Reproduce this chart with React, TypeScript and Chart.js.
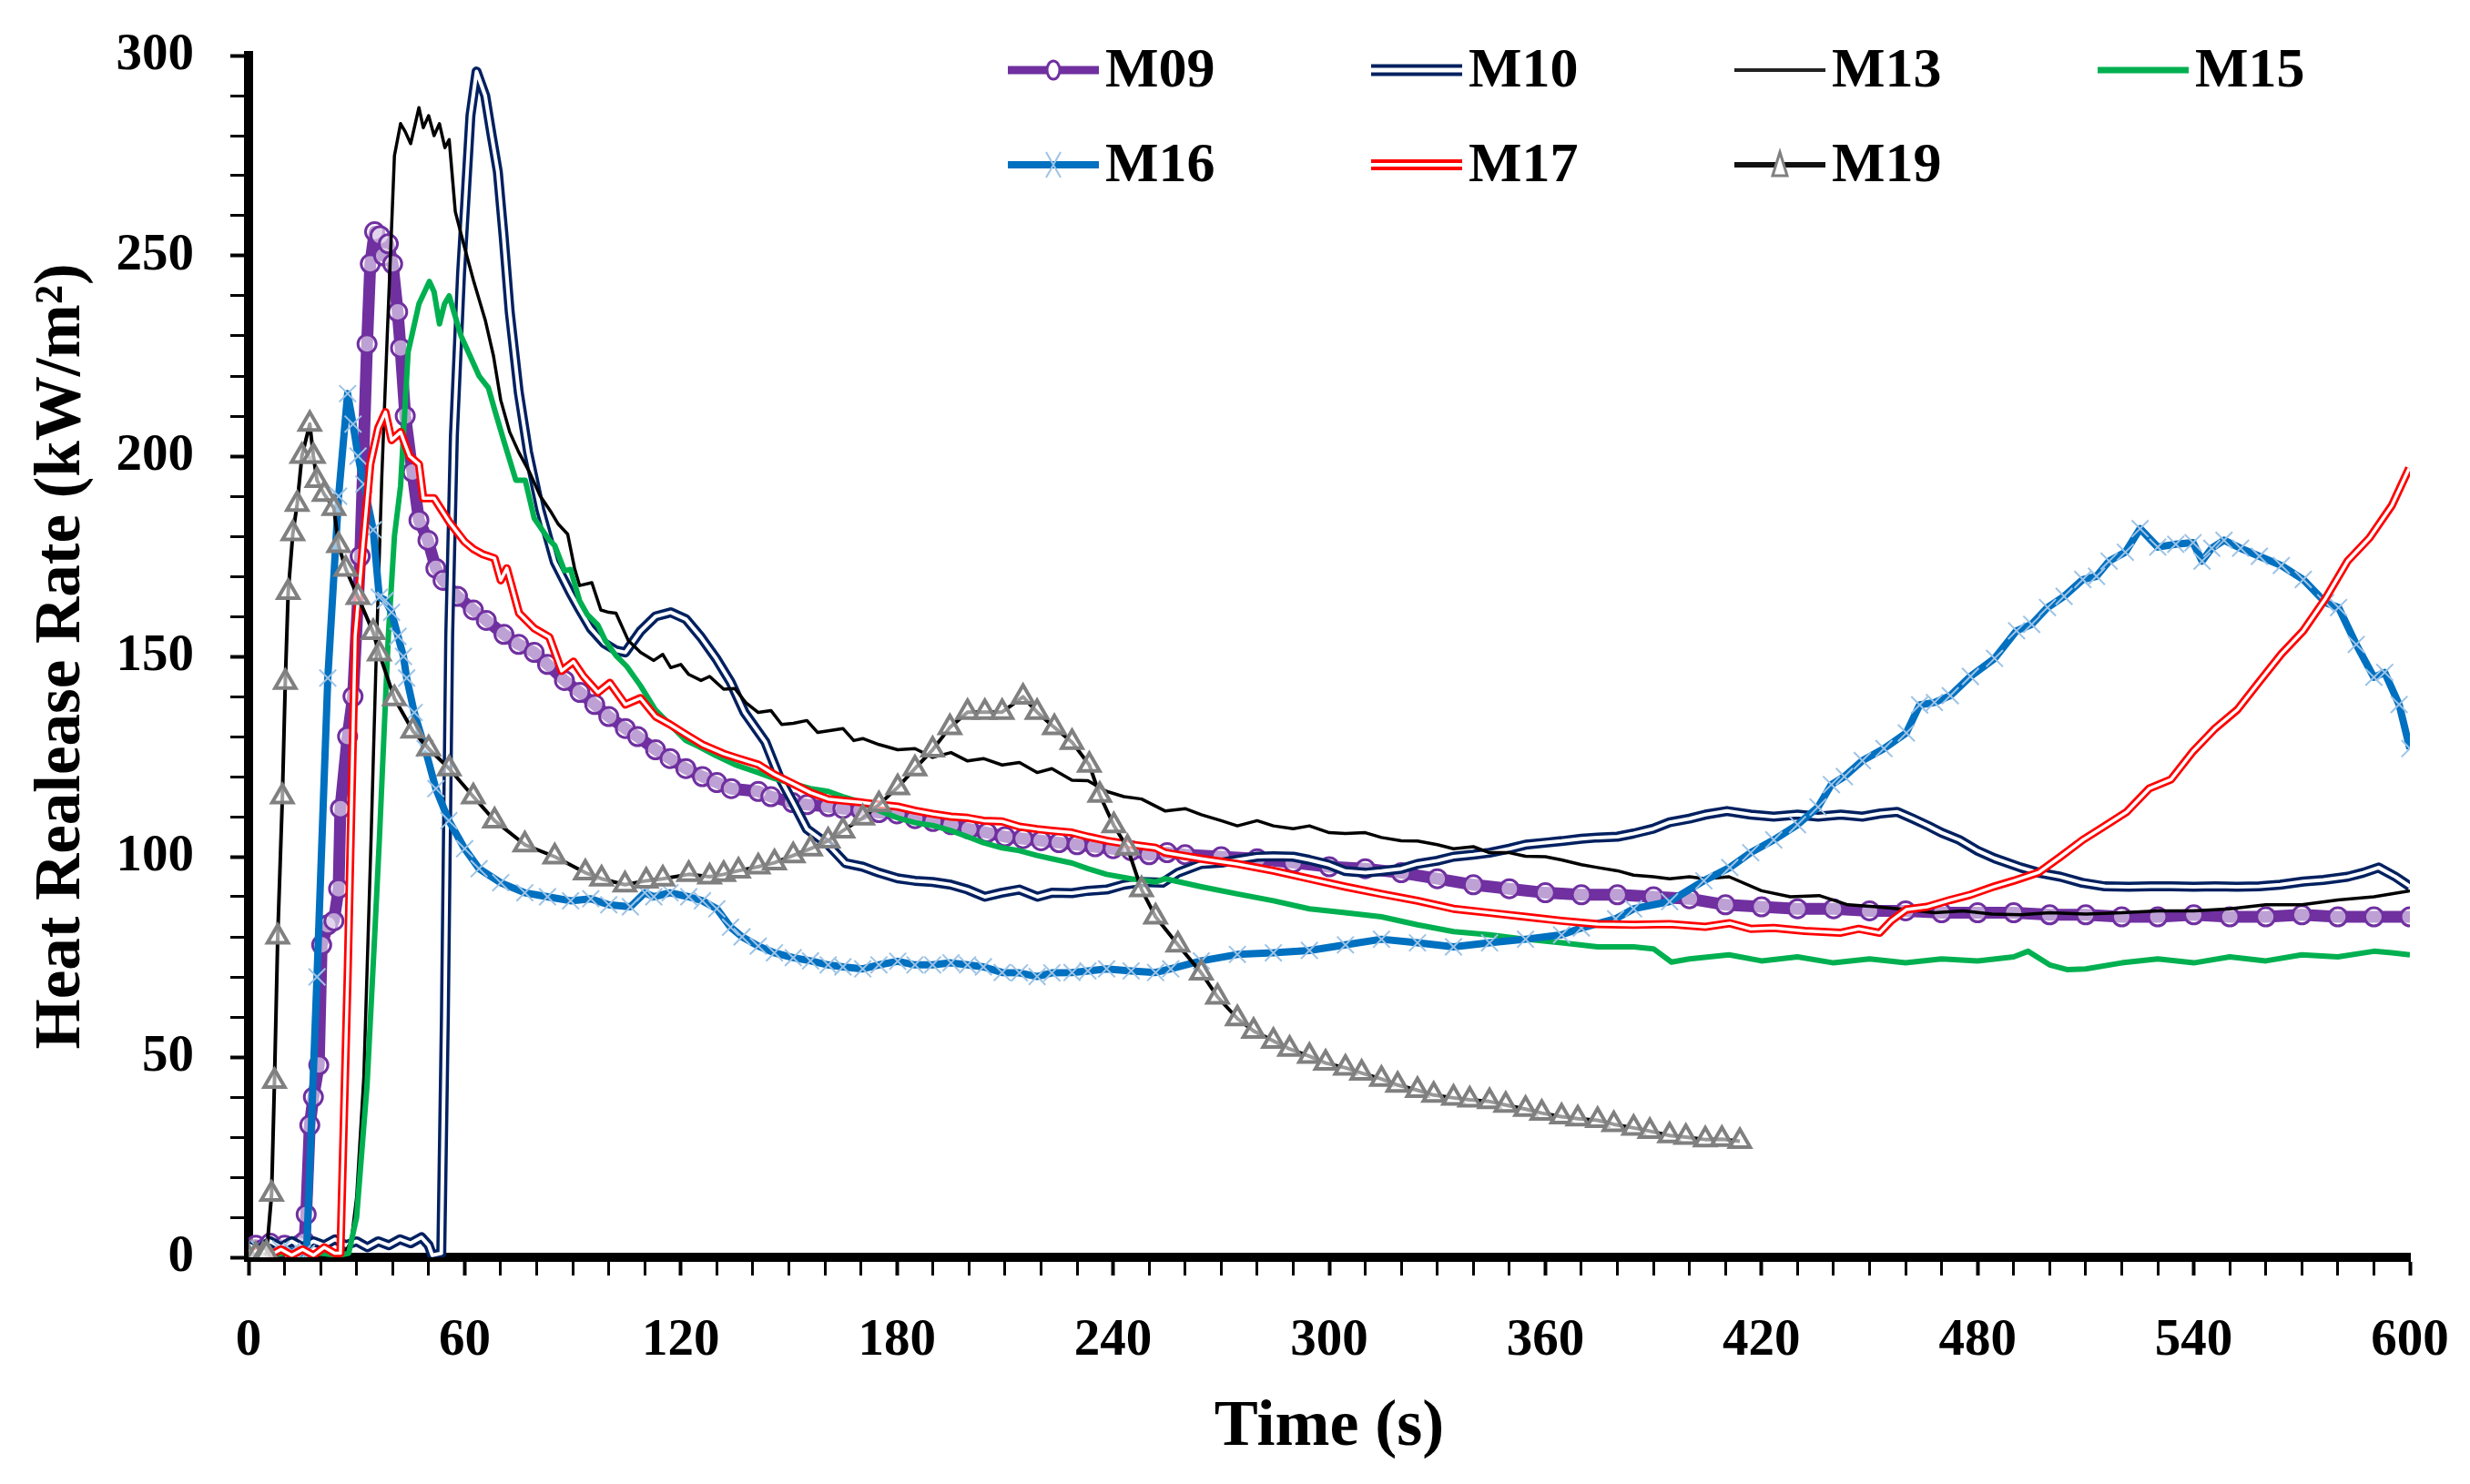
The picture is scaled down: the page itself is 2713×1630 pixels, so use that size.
import React, { useEffect, useRef } from "react";
import { Chart, registerables } from "chart.js";

Chart.register(...registerables);

// ---------- data (time in s, HRR in kW/m²) ----------
const m09T = [0, 2, 4, 6, 8, 10, 12, 14, 15.5, 16, 17, 18, 19.5, 20.3, 22, 23.7, 25, 25.5, 27.5, 29, 31, 32.9, 33.8, 35, 36.5, 37.5, 38.8, 40, 41.4, 42.2, 43.5, 45.5, 47.3, 49.8, 52, 54, 58, 62.4, 66, 70.9, 75, 79.3, 83, 87.7, 92, 96.1, 100, 104.6, 108, 113, 117, 121.4, 126, 130, 134, 141.5, 145, 151, 155, 161, 165, 170, 175, 180, 185, 190, 195, 200, 205, 210, 215, 220, 225, 230, 235, 240, 245, 250, 255, 260, 270, 280, 290, 300, 310, 320, 330, 340, 350, 360, 370, 380, 390, 400, 410, 420, 430, 440, 450, 460, 470, 480, 490, 500, 510, 520, 530, 540, 550, 560, 570, 580, 590, 600];
const m09Y = [1, 3, 2, 3.5, 2, 3, 2.5, 3, 4, 10.7, 33, 40, 48, 78, 83, 84, 92, 112, 130, 140, 175, 228, 248, 256, 255, 250, 253, 248, 236, 227, 210, 196, 184, 179, 172, 169, 165, 161.6, 159, 155.5, 153, 151, 148, 144, 141, 138, 135, 132, 130, 126.7, 124.5, 122, 120, 118.5, 117, 116.3, 115, 113.5, 113, 112.5, 112, 111.6, 111, 110.7, 109.5, 108.8, 108, 106.9, 106, 105, 104.5, 104, 103.5, 103, 102.5, 102, 101.5, 100.5, 101, 100.5, 100, 99.5, 98.5, 97.5, 97, 96, 94.5, 93, 92, 91, 90.5, 90.5, 90, 89.5, 88, 87.5, 87, 87, 86.5, 86.5, 86, 86, 86, 85.5, 85.5, 85, 85, 85.5, 85, 85, 85.5, 85, 85, 85];

const m10T = [0, 3, 6, 9, 12, 15, 18, 21, 24, 27, 30, 33, 36, 39, 42, 45, 48, 50, 51, 53.5, 54.5, 55.7, 57, 59, 61.6, 63.3, 65.7, 67.5, 69.2, 70.8, 72.5, 75, 77.6, 81, 85, 89.4, 92, 95, 98.7, 102, 104.6, 108.8, 113, 117.2, 121.4, 125.6, 129.8, 133.8, 137.7, 143.5, 147.3, 151.2, 155, 160.9, 165.7, 170.5, 175, 180.2, 185, 189.9, 195, 199.6, 204.4, 209, 214, 219, 223, 228.6, 233, 238.2, 243, 248, 253.7, 258, 264.5, 270, 274.5, 280, 284.5, 290, 294.5, 300, 304.5, 310, 314.5, 320, 324.5, 330, 334.5, 340, 344.5, 350, 354.5, 360, 364.5, 370, 374.5, 380, 384.5, 390, 394.5, 400, 404.4, 410.4, 417, 423.4, 430, 435.7, 442, 448, 453, 457.7, 462, 466.3, 470, 474.9, 480, 484.7, 492, 497, 503, 509, 515.3, 522, 528, 533.7, 540, 546, 552, 558.2, 564, 570.4, 576, 582.7, 587, 591.3, 596, 600];
const m10Y = [3, 2, 4, 2.5, 4, 2.5, 4, 3, 4.5, 3, 4, 2.5, 4, 3, 4.5, 3.5, 5, 3, 0.5, 1, 60, 155, 205, 245.7, 285, 296, 290, 280, 271, 255, 236, 216, 201, 186.6, 173.6, 165.8, 161.6, 157, 153.3, 151.5, 151, 156.3, 160, 161, 159.3, 154.8, 149.5, 143.6, 136, 128.6, 120, 113.5, 106.9, 103, 98.4, 97.5, 96, 94.6, 94, 93.7, 93, 91.8, 90, 91, 91.8, 90, 91, 90.9, 91.5, 91.8, 93, 93.7, 93.5, 96, 98.2, 98.5, 99.2, 100, 100.1, 100, 99.2, 98, 96.4, 96, 96.4, 97, 98.2, 99, 100, 100.5, 101, 102, 103, 103.5, 103.9, 104.5, 104.8, 105, 105.8, 107, 108.6, 109.5, 110.5, 111.4, 110.5, 110, 110.5, 110, 110.5, 110, 110.8, 111.2, 109.5, 107.7, 106, 104.2, 101.5, 99.6, 97.3, 96, 95, 93.5, 92.6, 92.5, 92.6, 92.6, 92.5, 92.6, 92.5, 92.6, 93, 93.8, 94.2, 95, 96, 97.3, 95, 92.6];

const m13T = [0, 5, 10, 15, 20, 25, 27, 28.5, 30, 32, 34, 35.5, 37, 38.5, 40.5, 42.2, 43.5, 45, 47.3, 48.5, 50, 51.5, 53, 54.5, 55.7, 57.4, 60, 62.4, 65.7, 68, 70, 72.5, 75, 78, 81, 84, 86, 88.6, 90.5, 91.9, 95.3, 97.8, 100, 102, 105.4, 108.8, 112.5, 115, 117.2, 120, 122.2, 125.6, 128, 131.9, 135, 138, 141.5, 145, 148, 151.2, 155, 158, 160.9, 165, 168, 170.5, 175, 180.2, 185, 189.9, 195, 199.6, 204, 209.2, 214, 218.9, 223, 228.6, 233, 238.2, 243, 247.9, 254.5, 260, 264.5, 270, 274.5, 280, 284.5, 290, 294.5, 300, 304.5, 310, 314.5, 320, 324.5, 330, 334.5, 340, 344.5, 350, 354.5, 360, 364.5, 370, 374.5, 380, 384.5, 390, 394.5, 400, 404.4, 411, 420, 428, 436, 444, 452, 460, 468, 476, 484, 492, 500, 510, 520, 530, 540, 550, 560, 570, 580, 590, 600];
const m13Y = [0, 0.5, 0.5, 1, 0.5, 1, 1.5, 4, 15, 45, 104, 152, 195, 230, 275, 283, 281, 278, 287, 282, 285, 280, 283, 277, 279, 261, 252, 244, 234, 225, 214, 206, 201, 196, 190, 186, 183, 180.5, 172, 167.7, 168.4, 161.6, 161, 160.8, 154, 151, 149, 150.5, 147.2, 148, 145.5, 144, 145, 141.8, 142, 138.5, 136, 136.5, 133, 133.3, 134, 131, 131.4, 132, 129, 129.5, 128, 126.7, 127, 124.8, 126, 123.9, 124.5, 122.9, 123.5, 121, 122, 119.1, 119, 116.3, 115, 114.4, 111.4, 112, 110.5, 109, 107.7, 109, 107.7, 107, 107.7, 106, 105.8, 106, 104.8, 104, 103.9, 103, 102, 102.5, 101, 101, 100.1, 100, 99.2, 98, 97.3, 96.5, 95.4, 95, 94.5, 95, 94.5, 95, 91.5, 90, 90.3, 88, 87.5, 86.8, 86, 86.5, 85.7, 85.5, 86, 85.7, 86, 86.5, 86.5, 87, 88, 88, 89.2, 90, 91.5];

const m15T = [0, 5, 10, 15, 20, 25, 27.8, 30, 32.9, 35, 36.3, 38.8, 40.5, 42.2, 44.3, 47.3, 50.2, 51.5, 53, 54.4, 55.7, 57, 59, 61.5, 64, 66.6, 68.5, 70.8, 72.5, 74.2, 76.8, 79.3, 83.5, 85, 87.7, 89.4, 91.9, 94, 97, 99, 102, 105, 108.8, 113, 117, 121.4, 125, 129.8, 135, 141.5, 146, 151.2, 156, 160.9, 165, 170.5, 175, 180.2, 185, 189.9, 195, 199.6, 204, 209.2, 214, 218.9, 223, 228.6, 233, 238.2, 245, 251.8, 254.5, 264.5, 274.5, 284.5, 294.5, 304.5, 314.5, 324.5, 334.5, 344.5, 354.5, 364.5, 374.5, 384.5, 390, 395, 400, 411, 420, 430, 440, 450, 460, 470, 480, 490, 494, 500, 505, 510, 520, 530, 540, 550, 560, 570, 580, 590, 595, 600];
const m15Y = [0.5, 0.5, 1, 0.5, 1, 0.5, 1, 10, 43, 80, 104, 155, 180, 192.5, 226, 238, 243.6, 241, 233, 238, 240, 236, 230, 225, 220, 217, 211, 204, 199, 194, 194, 184.5, 179, 177.7, 171.4, 171.7, 163.9, 160.5, 157.8, 154, 150.2, 147.5, 142.7, 136.6, 133, 129, 127.5, 125.2, 123, 121, 119.5, 118.2, 117, 116.3, 115, 113.5, 111.5, 109.7, 108.5, 107.8, 106.5, 105, 103.5, 102.2, 101.5, 100.3, 99.5, 98.4, 97, 95.6, 94.5, 93.7, 94.5, 92.5, 90.7, 89, 87, 86, 85, 83, 81.3, 80.5, 79.4, 78.5, 77.5, 77.5, 77, 73.7, 74.5, 75.5, 74, 75, 73.5, 74.5, 73.5, 74.5, 74, 75, 76.4, 73, 71.8, 72, 73.5, 74.5, 73.5, 75, 74, 75.5, 75, 76.4, 76, 75.5];

const m16T = [0, 3, 6, 9, 12, 15, 16.1, 19, 22, 25, 27.5, 29, 30.4, 32, 34.6, 36.3, 38, 39.7, 41.5, 43, 43.9, 46, 49, 52, 55.6, 60, 64, 70, 76.7, 83, 89.4, 95, 100, 106, 110, 112.5, 117, 122.2, 126, 130, 133.8, 137, 141.5, 146, 151.2, 156, 160.9, 165, 170.5, 175, 180.2, 185, 189.9, 195, 199.6, 204, 209.2, 214, 218.9, 223, 228.6, 233, 238.2, 245, 251.8, 256, 264.5, 274.5, 284.5, 294.5, 304.5, 314.5, 324.5, 334.5, 344.5, 354.5, 364.5, 370, 379.5, 384.5, 394.5, 404, 411.2, 417, 423.4, 430, 435.7, 439.4, 443, 448, 454, 460.2, 463.9, 468, 472.4, 478, 484.7, 490.8, 495, 499.4, 504, 509.2, 513, 516.5, 521, 525.1, 530, 535, 539.8, 542.3, 545, 548.4, 553, 558.2, 564.3, 570.4, 576.6, 580.2, 585.1, 590, 593, 597, 600];
const m16Y = [1, 2, 1, 2, 1.5, 1, 1, 70, 144.6, 190, 215.6, 208, 200, 193, 181.6, 164.8, 164, 161, 155, 150, 144.6, 136, 127, 117, 109, 102, 97, 93.5, 91, 90, 89, 89.5, 88, 87.5, 91, 90, 91, 90, 89, 87, 82.4, 80, 77.7, 76, 74.8, 74, 73, 72.5, 72, 73, 73.9, 73, 73, 73.5, 73, 72.5, 71.1, 71, 70.1, 71, 71.1, 71.5, 72, 71.5, 71.1, 72, 74, 75.6, 76, 76.6, 78, 79.4, 78.5, 77.5, 78.5, 79.4, 80.5, 82.2, 84.5, 87, 88.8, 94, 97.3, 101, 104.2, 108, 112.4, 118, 120, 124, 127, 130.9, 137.9, 138.5, 140.2, 145, 149.5, 156.4, 158, 162.2, 165, 169.2, 170, 173.8, 176, 181.9, 177.3, 178, 178.4, 173.8, 177, 179, 177, 175, 172.7, 169.2, 163.4, 162.2, 153, 144.8, 146, 138, 127];

const m17T = [0, 3, 6, 9, 12, 15, 18, 21, 24, 25.5, 27.5, 29.6, 31.3, 33.8, 36, 38, 39.7, 42.2, 44.7, 47.3, 48.5, 51.5, 55.7, 60, 62.4, 65, 68.3, 70, 71.7, 75.1, 79.3, 83.5, 86.9, 90.2, 93, 97, 100.3, 104.6, 108.8, 113, 117, 121.4, 126, 131.9, 136, 141.5, 146, 151.2, 156, 160.9, 165, 170.5, 175, 180.2, 185, 189.9, 195, 199.6, 204, 209.2, 214, 218.9, 223, 228.6, 233, 238.2, 245, 251.8, 254.5, 264.5, 274.5, 284.5, 294.5, 304.5, 314.5, 324.5, 334.5, 344.5, 354.5, 364.5, 374.5, 384.5, 394.5, 404.4, 411.2, 417, 423.4, 432, 441.8, 447, 452.8, 456, 460.2, 466, 472.4, 478, 484.7, 490, 497, 503, 509.2, 515, 521.4, 527.6, 533.7, 539.8, 545.9, 552.1, 558.2, 564.3, 570.4, 576.6, 582.7, 588.8, 595, 599.8];
const m17Y = [0.5, 2, 0.5, 2, 0.5, 2, 0.5, 2.5, 1, 1, 70, 155, 173, 198, 207, 211, 204, 206, 200, 198, 189.5, 189.5, 183.6, 178.6, 176.8, 175.5, 174.5, 169, 172, 160.8, 157, 154.8, 146.4, 148.7, 145, 141, 143.4, 138, 139.6, 135, 133, 130.5, 128, 125.7, 124.5, 123, 120.5, 118.2, 116, 114.4, 114, 113.5, 113, 112.5, 111.5, 110.7, 110, 109.7, 109, 108.8, 107.5, 106.9, 106.5, 106, 105, 104, 103, 102.2, 101, 99.5, 98.2, 96.5, 94.5, 92.5, 90.7, 89, 87, 86, 85, 84, 83.2, 83, 83.2, 82.5, 83.4, 82, 82.2, 81.5, 81, 82, 81, 84, 86.8, 87.5, 89.2, 90.5, 92.6, 94, 96.1, 100, 104.2, 107.5, 111.2, 117, 119.3, 126.3, 132, 136.7, 143.7, 150.6, 156.4, 164.5, 173.8, 179.6, 187.7, 197];

const m19T = [0, 2, 4, 5, 6.4, 7.2, 8.1, 9.4, 10.2, 11, 12.3, 13.5, 14.8, 17, 18, 19, 21, 23.7, 25, 27, 30.4, 34.6, 36.3, 40.5, 45.6, 50, 55.7, 62.4, 68.3, 76.7, 85, 93.5, 98, 104.5, 110.4, 115, 122.2, 128, 131.9, 136, 141.5, 146, 151.2, 156, 160.9, 165, 170.5, 175, 180.2, 185, 189.9, 194.7, 199.6, 204.4, 209.2, 215, 218.9, 223.7, 228.6, 233.4, 236.3, 240.2, 244, 247.9, 251.8, 258, 264.5, 269, 274.5, 279, 284.5, 289, 294.5, 299, 304.5, 309, 314.5, 319, 324.5, 329, 334.5, 339, 344.5, 349, 354.5, 359, 364.5, 369, 374.5, 379, 384.5, 389, 394.5, 399, 404.4, 409, 414];
const m19Y = [0, 0.5, 0.5, 1, 15.8, 44, 80, 115, 143.6, 166, 180.7, 188, 200, 208, 200, 194, 190.5, 187, 177.7, 171.8, 164.8, 156, 150.7, 139.5, 131.4, 127, 122, 115, 109, 103, 100, 96, 94.5, 93, 94, 94.5, 95.6, 95, 95.6, 96.5, 97.5, 98.5, 100.3, 102, 104, 106.5, 109.7, 113, 117.3, 122, 126.7, 132.3, 136.1, 136.1, 136.1, 139.9, 136.1, 132.3, 128.6, 122.9, 115.4, 107.8, 102.2, 91.8, 85, 78, 71, 65, 59.6, 56.5, 54, 52, 50.2, 48.5, 47.3, 46, 44.5, 43, 41.7, 40.5, 39.8, 39.3, 38.9, 38, 37, 36, 35.1, 34.6, 34.2, 33.2, 32.3, 31.5, 30.4, 30, 29.4, 29.5, 29];

const seriesNames = ["M09", "M10", "M13", "M15", "M16", "M17", "M19"];
const xTickStep = 10;
const xLabelEvery = 60;
const yTickStep = 10;
const yLabelEvery = 50;

// ---------- styles ----------
const PURPLE = "#7030A0";
const NAVY = "#002060";
const GREEN = "#00B050";
const BLUE = "#0070C0";
const LIGHTBLUE = "#9DC3E6";
const RED = "#FF0000";
const GREY = "#808080";
const FONT = '"Liberation Serif", "Times New Roman", serif';

const pts = (t: number[], y: number[]) => t.map((x, i) => ({ x, y: y[i] }));

const legendPlugin = {
  id: "customLegend",
  afterDraw(chart: any) {
    const ctx = chart.ctx as CanvasRenderingContext2D;
    const cols = [1107, 1506, 1905, 2304];
    const rows = [77, 181];
    const len = 100;
    ctx.save();
    seriesNames.forEach((name, i) => {
      const x0 = cols[i % 4];
      const y0 = rows[Math.floor(i / 4)];
      const mid = x0 + len / 2;
      ctx.lineCap = "butt";
      const line = (color: string, w: number) => {
        ctx.strokeStyle = color;
        ctx.lineWidth = w;
        ctx.beginPath();
        ctx.moveTo(x0, y0);
        ctx.lineTo(x0 + len, y0);
        ctx.stroke();
      };
      if (name === "M09") {
        line(PURPLE, 9);
        ctx.beginPath();
        ctx.ellipse(mid, y0, 7, 10, 0, 0, Math.PI * 2);
        ctx.fillStyle = "#fff";
        ctx.fill();
        ctx.lineWidth = 3;
        ctx.strokeStyle = PURPLE;
        ctx.stroke();
      } else if (name === "M10") {
        line(NAVY, 13);
        line("#fff", 5);
      } else if (name === "M13") {
        line("#222", 4);
      } else if (name === "M15") {
        line(GREEN, 7);
      } else if (name === "M16") {
        line(BLUE, 8);
        ctx.strokeStyle = LIGHTBLUE;
        ctx.lineWidth = 2;
        ctx.beginPath();
        ctx.moveTo(mid - 8, y0 - 14);
        ctx.lineTo(mid + 8, y0 + 14);
        ctx.moveTo(mid + 8, y0 - 14);
        ctx.lineTo(mid - 8, y0 + 14);
        ctx.stroke();
      } else if (name === "M17") {
        line(RED, 12);
        line("#fff", 4);
      } else if (name === "M19") {
        line("#111", 6);
        ctx.beginPath();
        ctx.moveTo(mid, y0 - 14);
        ctx.lineTo(mid + 8, y0 + 12);
        ctx.lineTo(mid - 8, y0 + 12);
        ctx.closePath();
        ctx.fillStyle = "#fff";
        ctx.fill();
        ctx.strokeStyle = GREY;
        ctx.lineWidth = 3;
        ctx.stroke();
      }
      ctx.fillStyle = "#000";
      ctx.font = `bold 62px ${FONT}`;
      ctx.textAlign = "left";
      ctx.textBaseline = "middle";
      ctx.fillText(name, x0 + len + 7, y0 + 2);
    });
    ctx.restore();
  },
};

export default function App() {
  const ref = useRef<HTMLCanvasElement | null>(null);

  useEffect(() => {
    if (!ref.current) return;
    document.body.style.margin = "0";
    const datasets: any[] = [
      {
        label: "M09", data: pts(m09T, m09Y), borderColor: PURPLE, borderWidth: 13,
        pointStyle: "circle", pointRadius: 10, pointBorderWidth: 3, pointBorderColor: PURPLE,
        pointBackgroundColor: "rgba(255,255,255,0.55)", order: 70,
      },
      {
        label: "M10", data: pts(m10T, m10Y), borderColor: NAVY, borderWidth: 11,
        pointRadius: 0, order: 60,
      },
      {
        label: "M10 inner", data: pts(m10T, m10Y), borderColor: "#fff", borderWidth: 4,
        pointRadius: 0, order: 59,
      },
      {
        label: "M13", data: pts(m13T, m13Y), borderColor: "#000", borderWidth: 3.5,
        pointRadius: 0, order: 50,
      },
      {
        label: "M15", data: pts(m15T, m15Y), borderColor: GREEN, borderWidth: 6,
        pointRadius: 0, order: 40,
      },
      {
        label: "M16", data: pts(m16T, m16Y), borderColor: BLUE, borderWidth: 8,
        pointStyle: "crossRot", pointRadius: 13, pointBorderWidth: 2, pointBorderColor: LIGHTBLUE,
        order: 30,
      },
      {
        label: "M17", data: pts(m17T, m17Y), borderColor: RED, borderWidth: 9,
        pointRadius: 0, order: 20,
      },
      {
        label: "M17 inner", data: pts(m17T, m17Y), borderColor: "#fff", borderWidth: 3.5,
        pointRadius: 0, order: 19,
      },
      {
        label: "M19", data: pts(m19T, m19Y), borderColor: "#000", borderWidth: 4,
        pointStyle: "triangle", pointRadius: 13, pointBorderWidth: 4, pointBorderColor: GREY,
        pointBackgroundColor: "rgba(255,255,255,0.6)", order: 10,
      },
    ];
    datasets.forEach((d) => {
      d.fill = false;
      d.tension = 0;
      d.borderJoinStyle = "round";
      d.pointHoverRadius = d.pointRadius;
    });

    const tickFont = { family: FONT, size: 57, weight: "bold" as const };
    const titleFont = { family: FONT, size: 72, weight: "bold" as const };

    const chart = new Chart(ref.current, {
      type: "line",
      data: { datasets },
      options: {
        animation: false,
        responsive: false,
        devicePixelRatio: 1,
        events: [],
        layout: { padding: { left: 0, right: 66, top: 61, bottom: 0 } },
        plugins: { legend: { display: false }, tooltip: { enabled: false }, title: { display: false } },
        scales: {
          x: {
            type: "linear",
            min: 0,
            max: 600,
            afterFit: (s: any) => {
              s.height = 249;
              s.paddingLeft = 0;
              s.paddingRight = 0;
            },
            ticks: {
              stepSize: xTickStep,
              autoSkip: false,
              maxRotation: 0,
              minRotation: 0,
              padding: 38,
              color: "#000",
              font: tickFont,
              callback: (v: any) => (Number(v) % xLabelEvery === 0 ? String(v) : ""),
            },
            grid: {
              drawOnChartArea: false,
              drawTicks: true,
              tickLength: 20,
              tickWidth: (c: any) => (c.tick && c.tick.value % xLabelEvery === 0 ? 4 : 3),
              color: "#000",
            },
            border: { display: true, width: 10, color: "#000" },
            title: { display: true, text: "Time (s)", color: "#000", font: titleFont, padding: { top: 0, bottom: 18 } },
          },
          y: {
            type: "linear",
            min: 0,
            max: 300,
            afterFit: (s: any) => {
              s.width = 273;
              s.paddingTop = 0;
              s.paddingBottom = 0;
            },
            ticks: {
              stepSize: yTickStep,
              autoSkip: false,
              padding: 40,
              color: "#000",
              font: tickFont,
              callback: (v: any) => (Number(v) % yLabelEvery === 0 ? String(v) : ""),
            },
            grid: {
              drawOnChartArea: false,
              drawTicks: true,
              tickLength: 20,
              tickWidth: (c: any) => (c.tick && c.tick.value % yLabelEvery === 0 ? 4 : 3),
              color: "#000",
            },
            border: { display: true, width: 10, color: "#000" },
            title: {
              display: true, text: "Heat Realease Rate (kW/m²)", color: "#000",
              font: { family: FONT, size: 71, weight: "bold" as const }, padding: { top: 26, bottom: 0 },
            },
          },
        },
      },
      plugins: [legendPlugin],
    });
    return () => chart.destroy();
  }, []);

  return (
    <div style={{ position: "absolute", left: 0, top: 0, width: 2713, height: 1630, background: "#fff" }}>
      <canvas ref={ref} width={2713} height={1630} style={{ display: "block" }} />
    </div>
  );
}
